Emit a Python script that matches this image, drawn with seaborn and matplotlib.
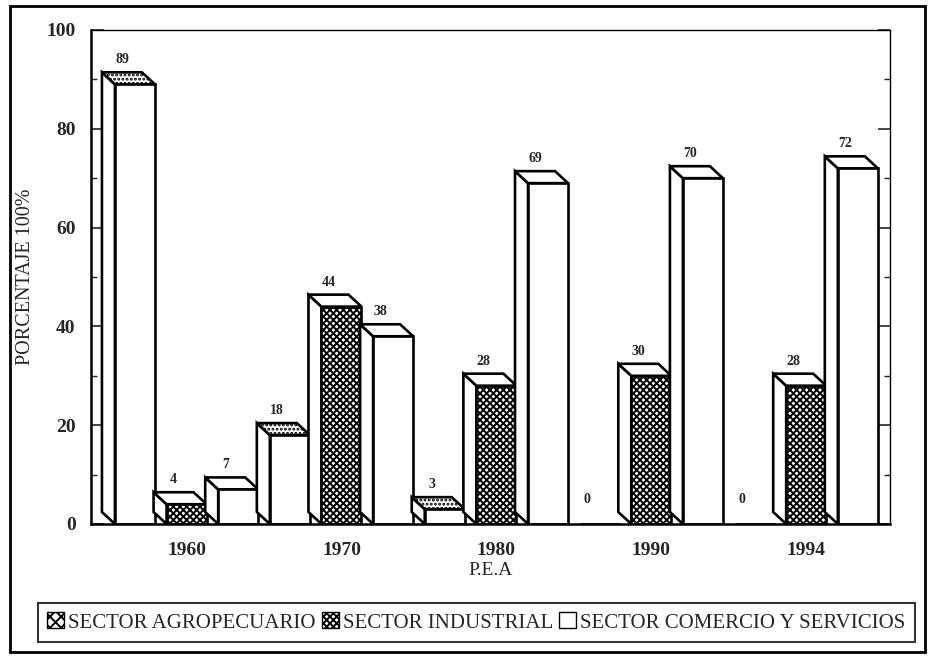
import matplotlib
matplotlib.use("Agg")
import matplotlib.pyplot as plt
from matplotlib.patches import Polygon, Rectangle, Patch
from matplotlib.ticker import MultipleLocator
import numpy as np
import pandas as pd
import seaborn as sns

# Distribución de la P.E.A por sector económico (%)
years = ["1960", "1970", "1980", "1990", "1994"]
sectors = ["SECTOR AGROPECUARIO", "SECTOR INDUSTRIAL", "SECTOR COMERCIO Y SERVICIOS"]
agropecuario = [89, 18, 3, 0, 0]
industrial = [4, 44, 28, 30, 28]
comercio = [7, 38, 69, 70, 72]

df = pd.DataFrame({
    "year": years * 3,
    "sector": [s for s in sectors for _ in years],
    "pct": agropecuario + industrial + comercio,
})

sns.set_style("ticks")
plt.rcParams["font.family"] = ["Liberation Serif", "DejaVu Serif"]
plt.rcParams["hatch.linewidth"] = 1.4

W, H = 933, 659
fig = plt.figure(figsize=(W / 100, H / 100), dpi=100)
ax = fig.add_axes([91 / W, 1 - 524 / H, (890 - 91) / W, (524 - 30) / H])

sns.barplot(data=df, x="year", y="pct", hue="sector", order=years,
            hue_order=sectors, palette={s: "white" for s in sectors},
            width=1.0, gap=0.225, saturation=1, edgecolor="black",
            linewidth=1.9, legend=False, ax=ax)

ax.set_xlim(-0.617, 4.541)
ax.set_ylim(0, 100)

# depth of the pseudo-3D bars, in pixels, converted to data units
depth_x_px, depth_y_px = 13, 12
fig.canvas.draw()
bbox = ax.get_window_extent()
dxd = depth_x_px * (ax.get_xlim()[1] - ax.get_xlim()[0]) / bbox.width
dyd = depth_y_px * (ax.get_ylim()[1] - ax.get_ylim()[0]) / bbox.height

front_hatch = {0: None, 1: "xxxxx", 2: None}
top_hatch = {0: "....", 1: None, 2: None}

bars = sorted(ax.patches, key=lambda p: p.get_x())
for i, p in enumerate(bars):
    x0 = p.get_x()
    w = p.get_width()
    h = p.get_height()
    cx = x0 + w / 2
    grp = int(round(cx))
    k = int(round((cx - grp) * 3)) + 1
    z = 2 + i * 0.01
    p.set_zorder(z + 0.002)
    if front_hatch[k]:
        p.set_hatch(front_hatch[k])
    if h > 0:
        side = Polygon([(x0, 0), (x0, h), (x0 - dxd, h + dyd), (x0 - dxd, dyd)],
                       closed=True, facecolor="white", edgecolor="black",
                       linewidth=1.9, zorder=z)
        top = Polygon([(x0, h), (x0 + w, h), (x0 + w - dxd, h + dyd), (x0 - dxd, h + dyd)],
                      closed=True, facecolor="white", edgecolor="black",
                      linewidth=1.9, zorder=z + 0.001,
                      hatch=top_hatch[k])
        ax.add_patch(side)
        ax.add_patch(top)
    ax.annotate(f"{int(round(h))}", xy=(cx - dxd, h + dyd), xytext=(0, 9),
                textcoords="offset points", ha="center", va="center",
                fontsize=10, fontweight="bold", zorder=5)

# axes styling
ax.set_yticks([0, 20, 40, 60, 80, 100])
ax.set_yticklabels(["0", "20", "40", "60", "80", "100"], fontweight="bold")
ax.yaxis.set_minor_locator(MultipleLocator(10))
ax.tick_params(axis="y", which="major", direction="in", length=9, width=1.2,
               left=True, right=True, labelsize=14, pad=11)
ax.tick_params(axis="y", which="minor", direction="in", length=4, width=1.0,
               left=True, right=True)
ax.tick_params(axis="x", length=0, labelsize=14, pad=13)
for lbl in ax.get_xticklabels():
    lbl.set_fontweight("bold")

ax.set_ylabel("PORCENTAJE 100%", fontsize=14.5, labelpad=8)
ax.set_xlabel("P.E.A", fontsize=14, labelpad=2)

for s in ["left", "bottom"]:
    ax.spines[s].set_linewidth(1.8)
for s in ["top", "right"]:
    ax.spines[s].set_visible(True)
    ax.spines[s].set_linewidth(1.0)
for s in ax.spines.values():
    s.set_color("black")

# legend
handles = [
    Patch(facecolor="white", edgecolor="black", hatch="xxx", linewidth=1.0),
    Patch(facecolor="white", edgecolor="black", hatch="xxxxx", linewidth=1.0),
    Patch(facecolor="white", edgecolor="black", linewidth=1.0),
]
leg = fig.legend(handles, sectors, loc="center", bbox_to_anchor=(0.5107, 0.0554),
                 ncol=3, frameon=True, fancybox=False, edgecolor="black",
                 handlelength=0.8, handleheight=0.8, handletextpad=0.2,
                 columnspacing=0.3, fontsize=15, borderpad=0.45,
                 borderaxespad=0)
leg.get_frame().set_linewidth(1.5)

# outer frame around the whole figure
fig.add_artist(Rectangle((10 / W, 1 - 652 / H), (925 - 10) / W, (652 - 6) / H,
                         transform=fig.transFigure, fill=False,
                         linewidth=2, edgecolor="black"))

fig.savefig("out.png", dpi=100, facecolor="white")
